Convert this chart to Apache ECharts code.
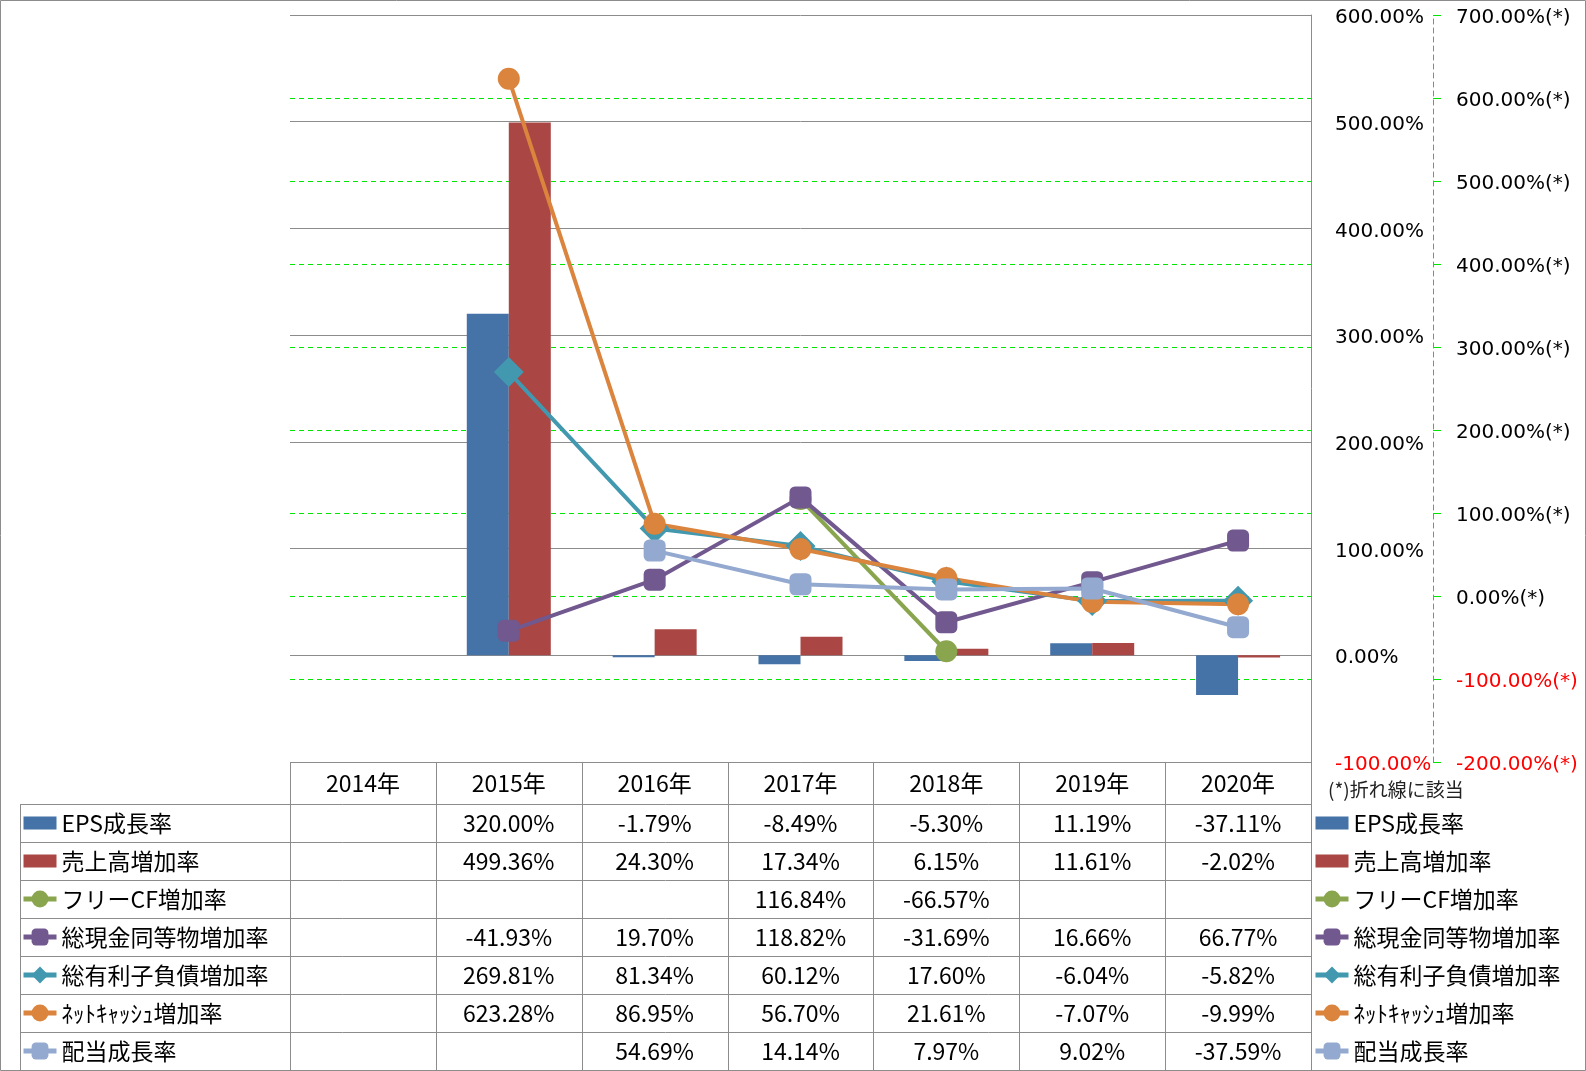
<!DOCTYPE html>
<html>
<head>
<meta charset="utf-8">
<script src="https://cdn.jsdelivr.net/npm/echarts@6/dist/echarts.min.js"></script>
<style>
html,body{margin:0;padding:0;background:#fff;}
#c{width:1586px;height:1071px;}
</style>
</head>
<body>
<div id="c"></div>
<script>
// ---------- data ----------
const categories = ['2014年', '2015年', '2016年', '2017年', '2018年', '2019年', '2020年'];
const seriesNames = ['EPS成長率', '売上高増加率', 'フリーCF増加率', '総現金同等物増加率', '総有利子負債増加率', 'ﾈｯﾄｷｬｯｼｭ増加率', '配当成長率'];
const epsGrowth      = [null, 320.00, -1.79, -8.49, -5.30, 11.19, -37.11];
const salesGrowth    = [null, 499.36, 24.30, 17.34, 6.15, 11.61, -2.02];
const freeCfGrowth   = [null, null, null, 116.84, -66.57, null, null];
const cashGrowth     = [null, -41.93, 19.70, 118.82, -31.69, 16.66, 66.77];
const debtGrowth     = [null, 269.81, 81.34, 60.12, 17.60, -6.04, -5.82];
const netCashGrowth  = [null, 623.28, 86.95, 56.70, 21.61, -7.07, -9.99];
const dividendGrowth = [null, null, 54.69, 14.14, 7.97, 9.02, -37.59];
const primaryAxis   = {min: -100, max: 600, interval: 100};
const secondaryAxis = {min: -200, max: 700, interval: 100};
const footnote = '(*)折れ線に該当';

const allSeries = [epsGrowth, salesGrowth, freeCfGrowth, cashGrowth, debtGrowth, netCashGrowth, dividendGrowth];
const colors = ['#4572A7', '#AA4643', '#89A54E', '#71588F', '#4198AF', '#DB843D', '#93A9CF'];
const kinds  = ['bar', 'bar', 'circle', 'roundRect', 'diamond', 'circle', 'roundRect'];

const CJK = '"Noto Sans CJK JP", "Noto Sans", sans-serif';
const AXF = '"DejaVu Sans", sans-serif';
const gridGray = '#8c8c8c';
const green = '#00e600';

const series = allSeries.map((vals, i) => {
  if (kinds[i] === 'bar') {
    return {
      name: seriesNames[i], type: 'bar', yAxisIndex: 0, data: vals,
      barWidth: 42, barGap: '0%',
      itemStyle: {color: colors[i]}
    };
  }
  return {
    name: seriesNames[i], type: 'line', yAxisIndex: 1, data: vals,
    symbol: kinds[i], symbolSize: kinds[i] === 'diamond' ? 30 : 22,
    showSymbol: true, showAllSymbol: true,
    lineStyle: {color: colors[i], width: 4},
    itemStyle: {color: colors[i]}
  };
});

const legendData = seriesNames.map((n, i) => kinds[i] === 'bar'
  ? {name: n, icon: 'path://M0,0h31v12h-31z'}
  : {name: n});

function legendAt(left) {
  return {
    orient: 'vertical', left: left, top: 804, padding: 0, itemGap: 0,
    itemWidth: 33, itemHeight: 21, selectedMode: false,
    data: legendData,
    lineStyle: {width: 5},
    textStyle: {fontFamily: CJK, fontSize: 23, color: '#000', lineHeight: 38}
  };
}

function axisRich() {
  const base = {fontFamily: AXF, fontSize: 20, padding: [6, 0, 0, 0]};
  return {n: Object.assign({color: '#000'}, base), r: Object.assign({color: '#ff0000'}, base)};
}

const option = {
  animation: false,
  backgroundColor: '#fff',
  color: colors,
  grid: {left: 290, right: 275, top: 15, height: 747, containLabel: false},
  legend: [legendAt(21), legendAt(1313)],
  xAxis: {
    type: 'category', data: categories, position: 'bottom',
    axisLine: {show: false, onZero: false}, axisTick: {show: false},
    splitLine: {show: false},
    axisLabel: {fontFamily: CJK, fontSize: 23, color: '#000', margin: 21, verticalAlign: 'middle', interval: 0}
  },
  yAxis: [
    {
      type: 'value', position: 'right', z: 2,
      min: primaryAxis.min, max: primaryAxis.max, interval: primaryAxis.interval,
      axisLine: {show: true, lineStyle: {color: gridGray, width: 1}},
      axisTick: {show: false},
      splitLine: {show: true, lineStyle: {color: gridGray, width: 1}},
      axisLabel: {
        margin: 24, align: 'left', rich: axisRich(),
        formatter: v => '{' + (Number(v) < 0 ? 'r' : 'n') + '|' + Number(v).toFixed(2) + '%}'
      }
    },
    {
      type: 'value', position: 'right', offset: 122, z: 0,
      min: secondaryAxis.min, max: secondaryAxis.max, interval: secondaryAxis.interval,
      axisLine: {show: true, lineStyle: {color: green, width: 1, type: [5, 4]}},
      axisTick: {show: true, inside: false, length: 8, lineStyle: {color: green, width: 1}},
      splitLine: {show: true, showMinLine: false, showMaxLine: false, lineStyle: {color: green, width: 1, type: [5, 4]}},
      axisLabel: {
        margin: 23, align: 'left', rich: axisRich(),
        formatter: v => '{' + (Number(v) < 0 ? 'r' : 'n') + '|' + Number(v).toFixed(2) + '%(*)}'
      }
    }
  ],
  series: series
};

const chart = echarts.init(document.getElementById('c'), null, {renderer: 'canvas'});
chart.setOption(option);

// ---------- data table (positions derived from the category axis) ----------
const c0 = chart.convertToPixel({xAxisIndex: 0}, 0);
const c1 = chart.convertToPixel({xAxisIndex: 0}, 1);
const band = c1 - c0;
const tableLeft = c0 - band / 2;
const tableRight = tableLeft + band * categories.length;
const tableTop = chart.convertToPixel({yAxisIndex: 0}, primaryAxis.min);
const headerH = 42, rowH = 38, legendColLeft = 20;
const rowsTop = tableTop + headerH;
const tableBottom = rowsTop + rowH * seriesNames.length;
const px = v => Math.round(v) + 0.5;

const g = [];
function hline(x1, x2, y) {
  g.push({type: 'line', silent: true, z: 10, shape: {x1: x1, y1: px(y), x2: x2, y2: px(y)}, style: {stroke: gridGray, lineWidth: 1}});
}
function vline(x, y1, y2) {
  g.push({type: 'line', silent: true, z: 10, shape: {x1: px(x), y1: y1, x2: px(x), y2: y2}, style: {stroke: gridGray, lineWidth: 1}});
}
hline(tableLeft, tableRight, tableTop);
for (let r = 0; r <= seriesNames.length; r++) hline(legendColLeft, tableRight, rowsTop + rowH * r);
vline(legendColLeft, rowsTop, tableBottom);
for (let k = 0; k <= categories.length; k++) vline(tableLeft + band * k, tableTop, tableBottom);

// cell texts
allSeries.forEach((vals, r) => {
  vals.forEach((v, k) => {
    if (v === null || v === undefined) return;
    g.push({
      type: 'text', silent: true, z: 10,
      x: chart.convertToPixel({xAxisIndex: 0}, k),
      y: rowsTop + rowH * (r + 0.5),
      style: {text: v.toFixed(2) + '%', fontFamily: CJK, fontSize: 23, fill: '#000', align: 'center', verticalAlign: 'middle'}
    });
  });
});

// footnote under secondary axis
g.push({
  type: 'text', silent: true, z: 10, x: 1328, y: 790,
  style: {text: footnote, fontFamily: CJK, fontSize: 19, fill: '#222', align: 'left', verticalAlign: 'middle'}
});

// chart-area border
g.push({type: 'rect', silent: true, z: 0, shape: {x: 0.5, y: 0.5, width: 1585, height: 1070}, style: {fill: 'none', stroke: gridGray, lineWidth: 1}});

chart.setOption({graphic: g});
</script>
</body>
</html>
